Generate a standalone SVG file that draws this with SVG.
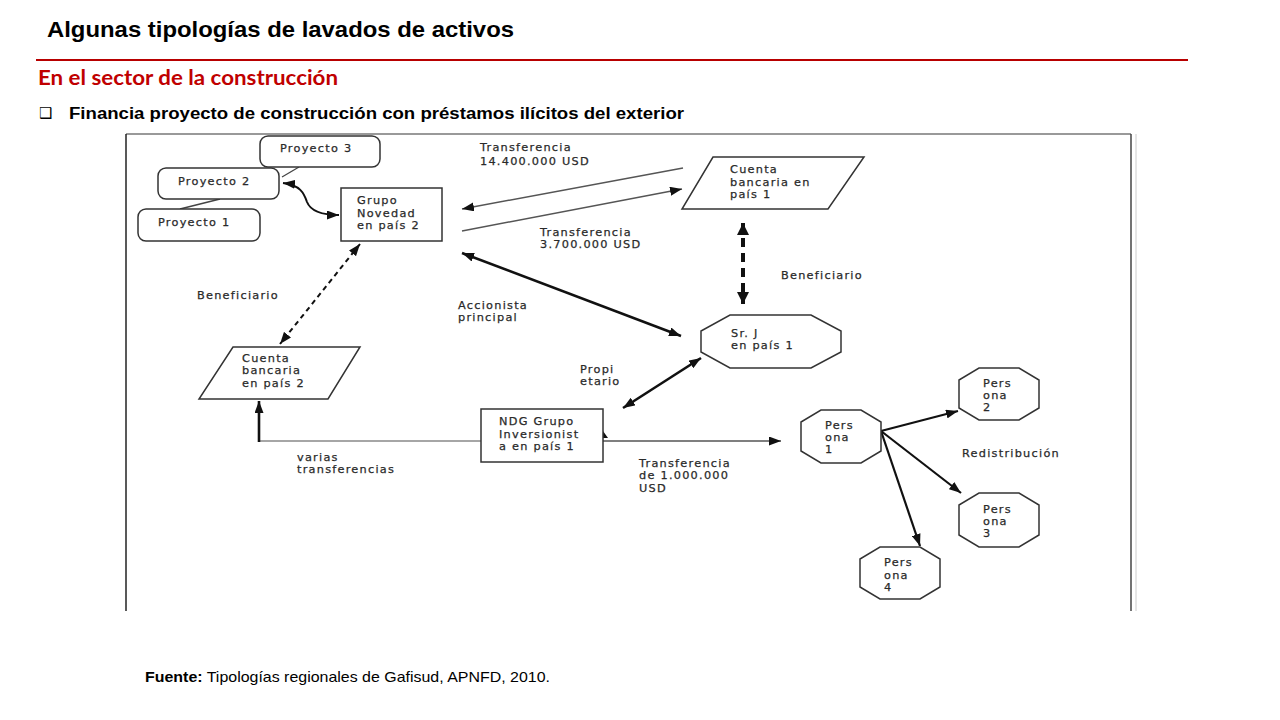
<svg xmlns="http://www.w3.org/2000/svg" width="1280" height="720" viewBox="0 0 1280 720">
<style>
.t{font-family:"DejaVu Sans","Liberation Sans",sans-serif;font-size:11.3px;letter-spacing:1.25px;fill:#2a2a2a;stroke:#2a2a2a;stroke-width:0.25px}
.box{fill:#fff;stroke:#333;stroke-width:1.5}
.c{fill:none;stroke:#111}
.thin{stroke:#555;stroke-width:1.5}
.thick{stroke-width:2.6}
</style>
<defs>
<marker id="ah" viewBox="0 0 10 10" refX="10" refY="5" markerWidth="12" markerHeight="9" markerUnits="userSpaceOnUse" orient="auto-start-reverse" preserveAspectRatio="none"><path d="M0,0 L10,5 L0,10 z" fill="#111"/></marker>
<marker id="ahb" viewBox="0 0 10 10" refX="10" refY="5" markerWidth="12" markerHeight="12" markerUnits="userSpaceOnUse" orient="auto-start-reverse" preserveAspectRatio="none"><path d="M0,0 L10,5 L0,10 z" fill="#111"/></marker>
</defs>
<rect width="1280" height="720" fill="#fff"/>

<!-- header -->
<text x="47" y="37" font-family="Liberation Sans, Arial, sans-serif" font-weight="bold" font-size="21.5" textLength="467" lengthAdjust="spacingAndGlyphs" fill="#000">Algunas tipologías de lavados de activos</text>
<line x1="36" y1="60" x2="1188" y2="60" stroke="#B80000" stroke-width="2"/>
<text x="38" y="85" font-family="Lato, 'Open Sans', sans-serif" font-weight="bold" font-size="20" textLength="300" lengthAdjust="spacingAndGlyphs" fill="#C00000">En el sector de la construcción</text>
<text x="39" y="118" font-family="'DejaVu Sans', sans-serif" font-size="15" fill="#000">❑</text>
<text x="69" y="119" font-family="Liberation Sans, Arial, sans-serif" font-weight="bold" font-size="16" textLength="615" lengthAdjust="spacingAndGlyphs" fill="#000">Financia proyecto de construcción con préstamos ilícitos del exterior</text>

<!-- frame -->
<line x1="126" y1="134" x2="1131" y2="134" stroke="#999" stroke-width="2"/>
<line x1="126" y1="134" x2="126" y2="611" stroke="#222" stroke-width="1.5"/>
<line x1="1131" y1="134" x2="1131" y2="611" stroke="#444" stroke-width="1.5"/>
<line x1="1136" y1="134" x2="1136" y2="611" stroke="#ccc" stroke-width="1"/>

<!-- connectors -->
<g id="connectors">
<line x1="282" y1="177" x2="299" y2="167" stroke="#444" stroke-width="1.3"/>
<line x1="180" y1="209" x2="220" y2="199" stroke="#444" stroke-width="1.3"/>
<path class="c" stroke-width="2" d="M283,183 C300,185 304,193 307,202 C311,212 324,215 339,215" marker-start="url(#ah)" marker-end="url(#ah)"/>
<line class="c thin" x1="683" y1="168" x2="462" y2="209" marker-end="url(#ah)"/>
<line class="c thin" x1="462" y1="231" x2="682" y2="189" marker-end="url(#ah)"/>
<line class="c thick" x1="462" y1="253" x2="681" y2="336" marker-start="url(#ah)" marker-end="url(#ah)"/>
<line class="c" stroke-width="4" stroke-dasharray="9,6" x1="743" y1="223" x2="743" y2="304" marker-start="url(#ahb)" marker-end="url(#ahb)"/>
<line class="c" stroke-width="2" stroke-dasharray="5,4" x1="360" y1="244" x2="280" y2="344" marker-start="url(#ah)" marker-end="url(#ah)"/>
<line class="c thick" x1="623" y1="408" x2="701" y2="358" marker-start="url(#ah)" marker-end="url(#ah)"/>
<line x1="481" y1="441" x2="259" y2="441" stroke="#888" stroke-width="1.5"/>
<line class="c thick" x1="259" y1="442" x2="259" y2="401" marker-end="url(#ah)"/>
<line class="c thin" x1="603" y1="441" x2="781" y2="441" marker-end="url(#ah)"/>
<polygon points="598,438 608,438 603,431" fill="#111"/>
<line class="c" stroke-width="2.2" x1="881" y1="431" x2="958" y2="411" marker-end="url(#ah)"/>
<line class="c" stroke-width="2.2" x1="881" y1="431" x2="961" y2="493" marker-end="url(#ah)"/>
<line class="c" stroke-width="2.2" x1="881" y1="431" x2="920" y2="546" marker-end="url(#ah)"/>
</g>

<!-- nodes -->
<g id="proyecto3"><rect class="box" x="260" y="136" width="120" height="31" rx="8"/><text class="t" x="280" y="152">Proyecto 3</text></g>
<g id="proyecto2"><rect class="box" x="158" y="168" width="121" height="31" rx="8"/><text class="t" x="178" y="185">Proyecto 2</text></g>
<g id="proyecto1"><rect class="box" x="138" y="209" width="122" height="32" rx="8"/><text class="t" x="158" y="226">Proyecto 1</text></g>
<g id="grupo-novedad"><rect class="box" x="341" y="188" width="101" height="53"/><text class="t" x="357" y="204">Grupo</text><text class="t" x="357" y="217">Novedad</text><text class="t" x="357" y="229">en país 2</text></g>
<g id="cuenta-pais1"><polygon class="box" points="713,157 864,157 828,209 682,209"/><text class="t" x="730" y="173">Cuenta</text><text class="t" x="730" y="186">bancaria en</text><text class="t" x="730" y="198">país 1</text></g>
<g id="sr-j"><polygon class="box" points="730,315 811,315 841,331 841,352 811,368 730,368 701,352 701,331"/><text class="t" x="731" y="337">Sr. J</text><text class="t" x="731" y="349">en país 1</text></g>
<g id="cuenta-pais2"><polygon class="box" points="233,347 360,347 328,399 199,399"/><text class="t" x="242" y="362">Cuenta</text><text class="t" x="242" y="374">bancaria</text><text class="t" x="242" y="387">en país 2</text></g>
<g id="ndg"><rect class="box" x="481" y="409" width="122" height="53"/><text class="t" x="499" y="425">NDG Grupo</text><text class="t" x="499" y="438">Inversionist</text><text class="t" x="499" y="450">a en país 1</text></g>
<g id="persona1"><polygon class="box" points="821,410 861,410 881,422 881,451 861,463 821,463 801,451 801,422"/><text class="t" x="825" y="429">Pers</text><text class="t" x="825" y="441">ona</text><text class="t" x="825" y="453">1</text></g>
<g id="persona2"><polygon class="box" points="979,368 1019,368 1039,380 1039,408 1019,420 979,420 959,408 959,380"/><text class="t" x="983" y="387">Pers</text><text class="t" x="983" y="399">ona</text><text class="t" x="983" y="411">2</text></g>
<g id="persona3"><polygon class="box" points="979,493 1019,493 1039,505 1039,535 1019,547 979,547 959,535 959,505"/><text class="t" x="983" y="513">Pers</text><text class="t" x="983" y="525">ona</text><text class="t" x="983" y="537">3</text></g>
<g id="persona4"><polygon class="box" points="880,547 920,547 940,559 940,587 920,599 880,599 860,587 860,559"/><text class="t" x="884" y="566">Pers</text><text class="t" x="884" y="579">ona</text><text class="t" x="884" y="591">4</text></g>

<!-- connector labels -->
<g id="labels">
<text class="t" x="480" y="151">Transferencia</text>
<text class="t" x="480" y="165">14.400.000 USD</text>
<text class="t" x="540" y="236">Transferencia</text>
<text class="t" x="540" y="248">3.700.000 USD</text>
<text class="t" x="781" y="279">Beneficiario</text>
<text class="t" x="197" y="299">Beneficiario</text>
<text class="t" x="458" y="309">Accionista</text>
<text class="t" x="458" y="321">principal</text>
<text class="t" x="580" y="373">Propi</text>
<text class="t" x="580" y="385">etario</text>
<text class="t" x="297" y="461">varias</text>
<text class="t" x="297" y="473">transferencias</text>
<text class="t" x="639" y="467">Transferencia</text>
<text class="t" x="639" y="479">de 1.000.000</text>
<text class="t" x="639" y="492">USD</text>
<text class="t" x="962" y="457">Redistribución</text>
</g>

<text x="145" y="682" font-family="Liberation Sans, Arial, sans-serif" font-size="15" textLength="405" lengthAdjust="spacingAndGlyphs" fill="#000"><tspan font-weight="bold">Fuente:</tspan> Tipologías regionales de Gafisud, APNFD, 2010.</text>
</svg>
